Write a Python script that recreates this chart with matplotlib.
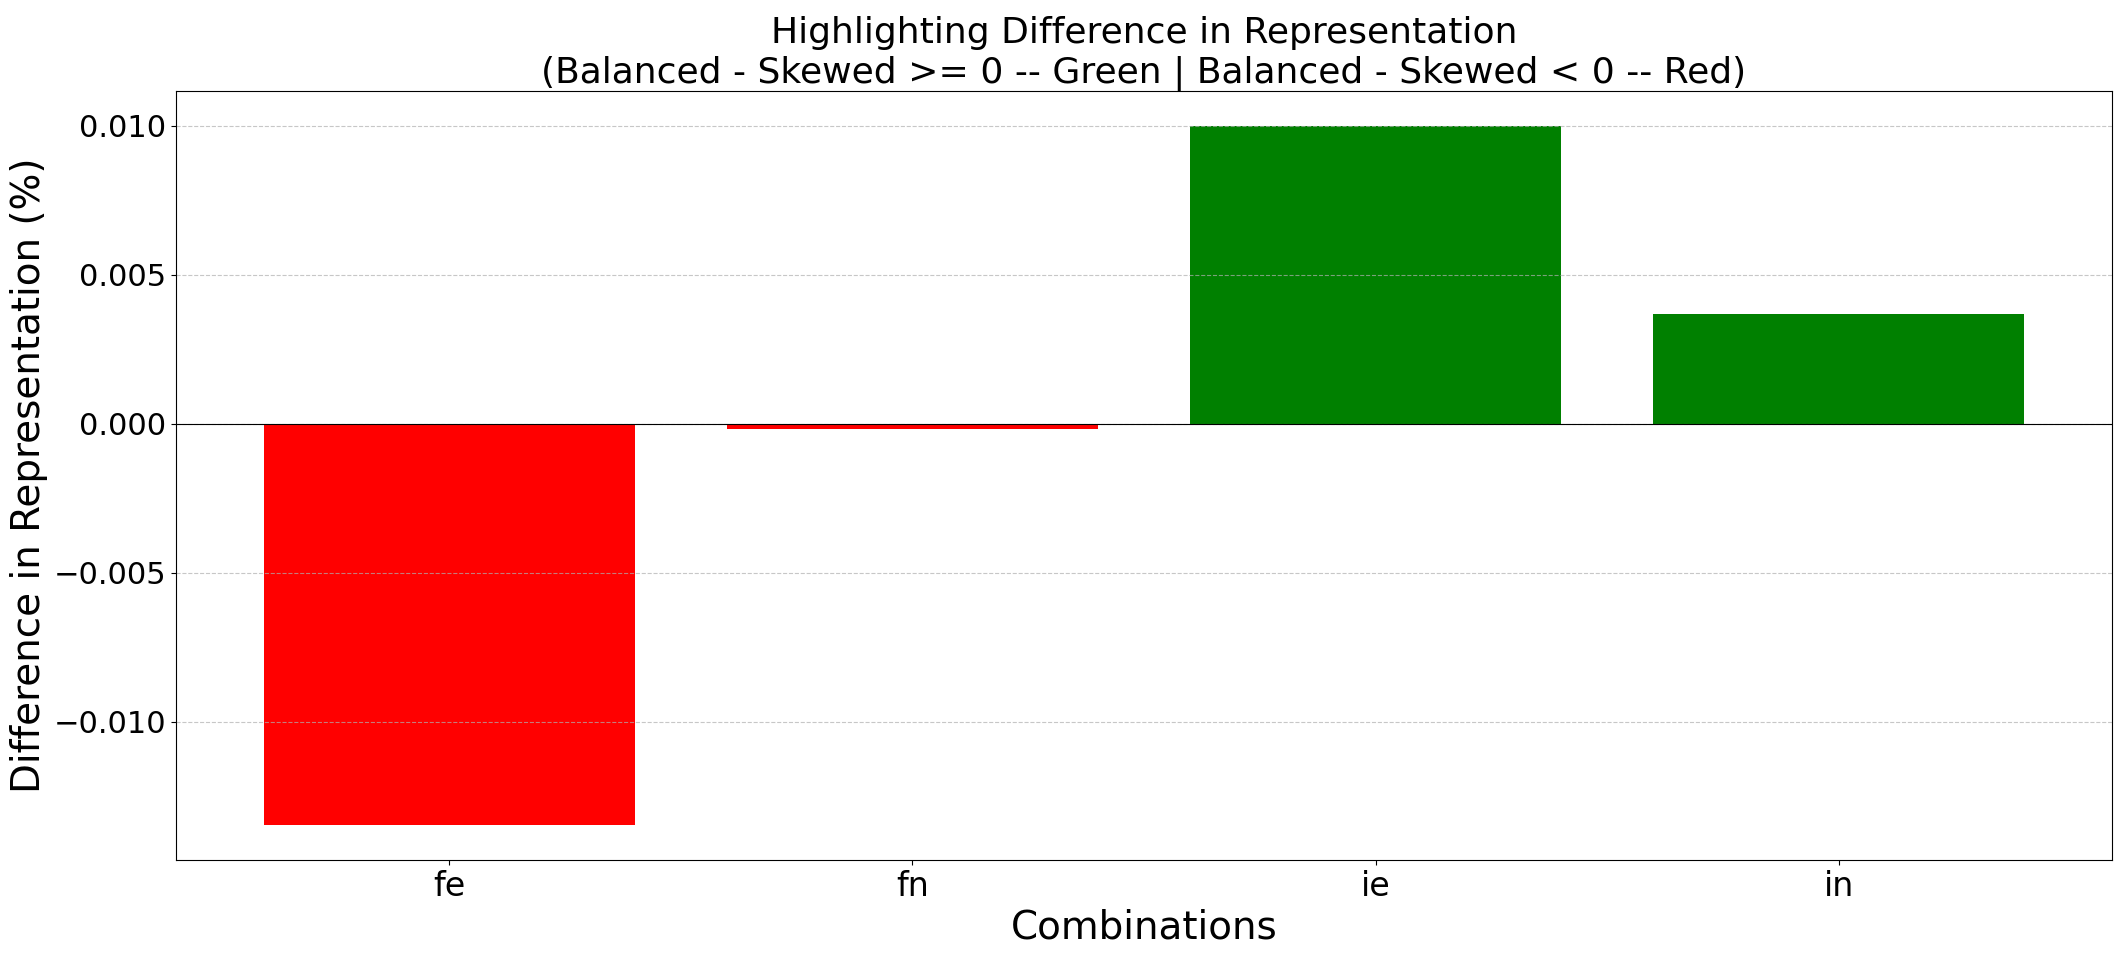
import matplotlib
matplotlib.use("Agg")
import matplotlib.pyplot as plt

# Difference in representation (balanced - skewed), per combination
combinations = ['fe', 'fn', 'ie', 'in']
differences = [-0.01346, -0.00016, 0.01000, 0.00369]

colors = ['green' if d >= 0 else 'red' for d in differences]

fig, ax = plt.subplots(figsize=(21.23, 9.57), dpi=100)
fig.subplots_adjust(left=0.0829, right=0.9948, top=0.9052, bottom=0.1014)

ax.bar(combinations, differences, color=colors)
ax.axhline(0, color='black', linewidth=0.8)

ax.set_title('Highlighting Difference in Representation\n'
             '(Balanced - Skewed >= 0 -- Green | Balanced - Skewed < 0 -- Red)',
             fontsize=26)
ax.set_xlabel('Combinations', fontsize=28)
ax.set_ylabel('Difference in Representation (%)', fontsize=28)
ax.tick_params(axis='x', labelsize=24)
ax.tick_params(axis='y', labelsize=22)
ax.grid(axis='y', linestyle='--', alpha=0.7)

fig.savefig('out.png', dpi=100)
